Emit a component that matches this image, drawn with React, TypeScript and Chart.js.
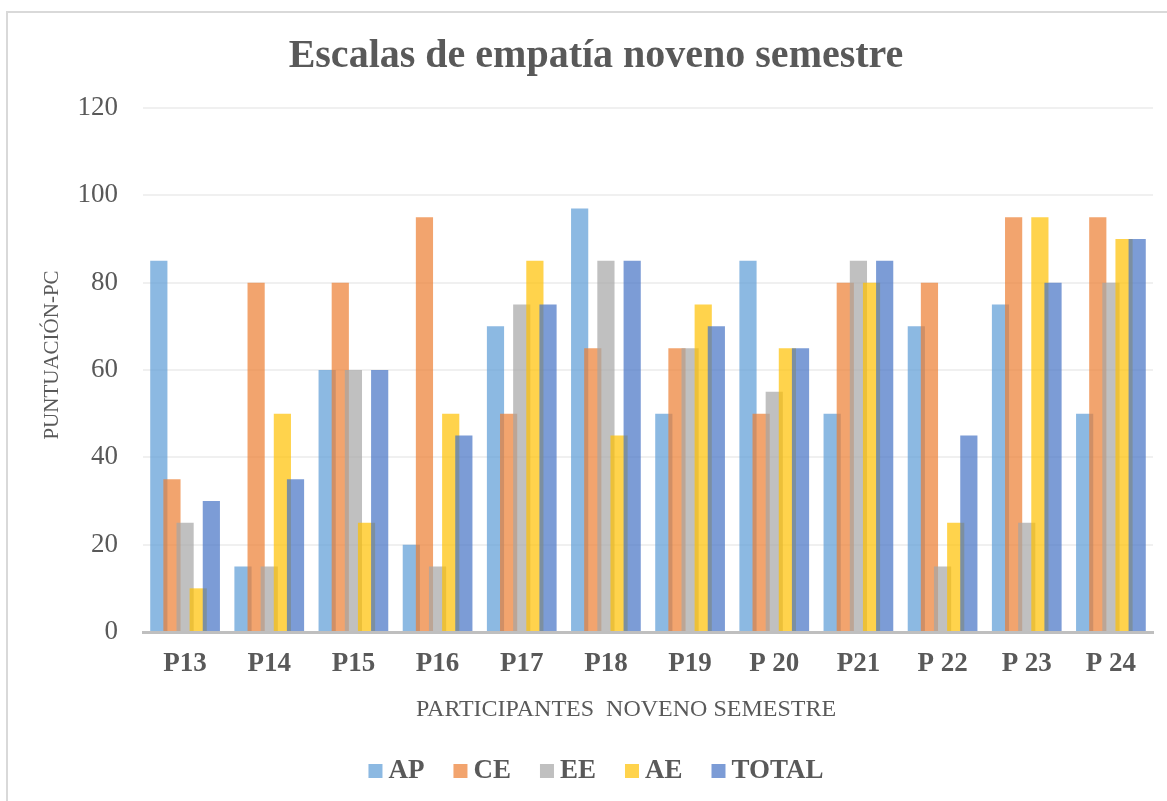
import React, { useEffect, useRef } from "react";
import { Chart, registerables } from "chart.js";

Chart.register(...registerables);

// ---- data ----
const categories = ["P13", "P14", "P15", "P16", "P17", "P18", "P19", "P 20", "P21", "P 22", "P 23", "P 24"];
const seriesNames = ["AP", "CE", "EE", "AE", "TOTAL"];
const apValues = [85, 15, 60, 20, 70, 97, 50, 85, 50, 70, 75, 50];
const ceValues = [35, 80, 80, 95, 50, 65, 65, 50, 80, 80, 95, 95];
const eeValues = [25, 15, 60, 15, 75, 85, 65, 55, 85, 15, 25, 80];
const aeValues = [10, 50, 25, 50, 85, 45, 75, 65, 80, 25, 95, 90];
const totalValues = [30, 35, 60, 45, 75, 85, 70, 65, 85, 45, 80, 90];
const seriesColors = [
  "rgba(91,155,213,0.7)",
  "rgba(237,125,49,0.7)",
  "rgba(165,165,165,0.7)",
  "rgba(255,192,0,0.7)",
  "rgba(68,114,196,0.7)",
];
const titleText = "Escalas de empatía noveno semestre";
const xAxisTitle = "PARTICIPANTES  NOVENO SEMESTRE";
const yAxisTitle = "PUNTUACIÓN-PC";
const yMin = 0;
const yMax = 120;
const yStep = 20;

// ---- style ----
const FONT = '"Liberation Serif", "Times New Roman", serif';
const TEXT_COLOR = "#595959";
const CANVAS_W = 1176;
const CANVAS_H = 796;

const orderedDraw = {
  id: "orderedDraw",
  beforeDatasetsDraw(chart: any) {
    const n = chart.data.datasets.length;
    for (let i = 0; i < n; i++) {
      const meta = chart.getDatasetMeta(i);
      if (meta.visible !== false) meta.controller.draw();
    }
    return false;
  },
};

const extras = {
  id: "extras",
  afterDraw(chart: any) {
    const ctx = chart.ctx as CanvasRenderingContext2D;
    ctx.save();
    ctx.fillStyle = TEXT_COLOR;
    // x axis title
    ctx.font = `24px ${FONT}`;
    ctx.textAlign = "center";
    ctx.textBaseline = "middle";
    ctx.fillText(xAxisTitle, 618, 697);
    // y axis title
    ctx.save();
    ctx.translate(44, 342);
    ctx.rotate(-Math.PI / 2);
    ctx.font = `21px ${FONT}`;
    ctx.fillText(yAxisTitle, 0, 0);
    ctx.restore();
    // legend
    ctx.font = `bold 27px ${FONT}`;
    const box = 14;
    const gap = 6;
    const spacing = 29;
    const cy = 758;
    const items = chart.data.datasets.map((d: any) => ({
      label: d.label,
      color: d.backgroundColor,
      w: ctx.measureText(d.label).width,
    }));
    const total =
      items.reduce((s: number, it: any) => s + box + gap + it.w, 0) + spacing * (items.length - 1);
    let x = 588 - total / 2;
    ctx.textAlign = "left";
    for (const it of items) {
      ctx.fillStyle = it.color;
      ctx.fillRect(x, cy - box / 2, box, box);
      ctx.fillStyle = TEXT_COLOR;
      ctx.fillText(it.label, x + box + gap, cy);
      x += box + gap + it.w + spacing;
    }
    ctx.restore();
  },
};

export default function App() {
  const canvasRef = useRef<HTMLCanvasElement | null>(null);

  useEffect(() => {
    if (!canvasRef.current) return;
    const values = [apValues, ceValues, eeValues, aeValues, totalValues];
    const chart = new Chart(canvasRef.current, {
      type: "bar",
      data: {
        labels: categories,
        datasets: seriesNames.map((name, i) => ({
          label: name,
          data: values[i],
          backgroundColor: seriesColors[i],
          borderWidth: 0,
          categoryPercentage: 0.78,
          barPercentage: 1.31,
        })),
      },
      plugins: [orderedDraw, extras],
      options: {
        responsive: false,
        animation: false,
        layout: { padding: { top: 0, left: 31, right: 31, bottom: 127 } },
        plugins: {
          legend: { display: false },
          tooltip: { enabled: false },
          title: {
            display: true,
            text: titleText,
            color: TEXT_COLOR,
            font: { family: FONT, size: 40, weight: "bold" },
            padding: { top: 20, bottom: 27 },
          },
        },
        scales: {
          x: {
            grid: { display: false, drawTicks: false },
            border: { display: true, color: "#BFBFBF", width: 3 },
            ticks: {
              color: TEXT_COLOR,
              font: { family: FONT, size: 27, weight: "bold" },
              padding: 16,
              maxRotation: 0,
              autoSkip: false,
            },
            afterFit: (scale: any) => {
              scale.height = 50;
            },
          },
          y: {
            min: yMin,
            max: yMax,
            ticks: {
              stepSize: yStep,
              color: TEXT_COLOR,
              font: { family: FONT, size: 27 },
              padding: 25,
            },
            grid: { color: "#F0F0F0", lineWidth: 2, drawTicks: false },
            border: { display: false },
            afterFit: (scale: any) => {
              scale.width = 104;
            },
          },
        },
      },
    });
    return () => chart.destroy();
  }, []);

  return (
    <div
      style={{
        position: "fixed",
        left: 0,
        top: 0,
        width: 1167,
        height: 801,
        overflow: "hidden",
        background: "#ffffff",
      }}
    >
      <div
        style={{
          position: "absolute",
          left: 6,
          top: 11,
          width: 1180,
          height: 800,
          border: "2px solid #D9D9D9",
          boxSizing: "border-box",
          background: "#ffffff",
        }}
      >
        <canvas ref={canvasRef} width={CANVAS_W} height={CANVAS_H} style={{ display: "block" }} />
      </div>
    </div>
  );
}
